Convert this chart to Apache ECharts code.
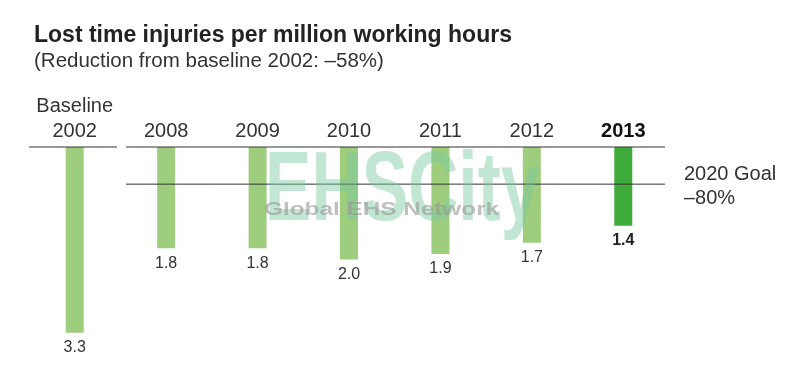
<!DOCTYPE html>
<html>
<head>
<meta charset="utf-8">
<script src="https://cdn.jsdelivr.net/npm/echarts@6/dist/echarts.min.js"></script>
<style>
  html, body { margin: 0; padding: 0; background: #fff; }
  #chart { width: 800px; height: 365px; }
</style>
</head>
<body>
<div id="chart"></div>
<script>
// data
var years = ['Baseline\n2002', '2008', '2009', '2010', '2011', '2012', '2013'];
var rates = [3.3, 1.8, 1.8, 2.0, 1.9, 1.7, 1.4];
var goalReduction = 0.80; // 2020 goal: -80% from baseline

var lightGreen = '#9fcd7e';
var darkGreen = '#3eab3a';
var textColor = '#333';

var last = rates.length - 1;
var barData = rates.map(function (v, i) {
    if (i === last) {
        return {
            value: v,
            itemStyle: {color: darkGreen},
            label: {fontWeight: 'bold', color: '#222'}
        };
    }
    return v;
});

var chart = echarts.init(document.getElementById('chart'));
chart.setOption({
    animation: false,
    title: {
        text: 'Lost time injuries per million working hours',
        subtext: '(Reduction from baseline 2002: \u201358%)',
        left: 29,
        top: 19,
        itemGap: 4,
        textStyle: {
            fontFamily: 'Liberation Sans',
            fontSize: 23,
            fontWeight: 'bold',
            color: '#222'
        },
        subtextStyle: {
            fontFamily: 'Liberation Sans',
            fontSize: 20.5,
            color: textColor
        }
    },
    grid: {
        left: 29,
        right: 131,
        top: 147,
        bottom: 21
    },
    xAxis: {
        type: 'category',
        position: 'top',
        data: years,
        axisLine: {show: false},
        axisTick: {show: false},
        axisLabel: {
            margin: 3,
            interval: 0,
            fontFamily: 'Liberation Sans',
            fontSize: 20,
            lineHeight: 25,
            color: textColor,
            formatter: function (v, i) {
                return i === last ? '{b|' + v + '}' : v;
            },
            rich: {
                b: {
                    fontFamily: 'Liberation Sans',
                    fontSize: 20,
                    lineHeight: 25,
                    fontWeight: 'bold',
                    color: '#111'
                }
            }
        }
    },
    yAxis: {
        type: 'value',
        inverse: true,
        min: 0,
        max: 3.5,
        show: false,
        splitLine: {show: false}
    },
    series: [
        {
            type: 'bar',
            barWidth: 18,
            data: barData,
            itemStyle: {color: lightGreen},
            label: {
                show: true,
                position: 'bottom',
                distance: 7,
                fontFamily: 'Liberation Sans',
                fontSize: 16,
                color: textColor,
                formatter: function (p) {
                    return p.value.toFixed(1);
                }
            }
        }
    ]
});

// reference lines: zero line (split after baseline) and 2020 goal
var y0 = chart.convertToPixel({yAxisIndex: 0}, 0);
var yGoal = chart.convertToPixel({yAxisIndex: 0}, rates[0] * (1 - goalReduction));
var lineStyle = {stroke: '#333', lineWidth: 1};

chart.setOption({
    graphic: [
        {type: 'line', shape: {x1: 29, y1: y0, x2: 117, y2: y0}, style: lineStyle, z: 10},
        {type: 'line', shape: {x1: 126, y1: y0, x2: 665, y2: y0}, style: lineStyle, z: 10},
        {type: 'line', shape: {x1: 126, y1: yGoal, x2: 665, y2: yGoal}, style: lineStyle, z: 10},
        {
            type: 'text',
            left: 684,
            top: yGoal - 22,
            style: {
                text: '2020 Goal\n\u201380%',
                font: '20px "Liberation Sans"',
                lineHeight: 24,
                fill: textColor
            }
        },
        // watermark
        {
            type: 'text',
            x: 265,
            y: 144,
            scaleX: 0.71,
            z: 20,
            style: {
                text: 'EHSCity',
                font: 'bold 98px "Liberation Sans"',
                fill: 'rgba(120, 200, 160, 0.45)'
            }
        },
        {
            type: 'text',
            x: 264,
            y: 200,
            scaleX: 1.28,
            z: 21,
            style: {
                text: 'Global EHS Network',
                font: 'bold 19px "Liberation Sans"',
                fill: 'rgba(150, 150, 150, 0.6)'
            }
        }
    ]
});
</script>
</body>
</html>
